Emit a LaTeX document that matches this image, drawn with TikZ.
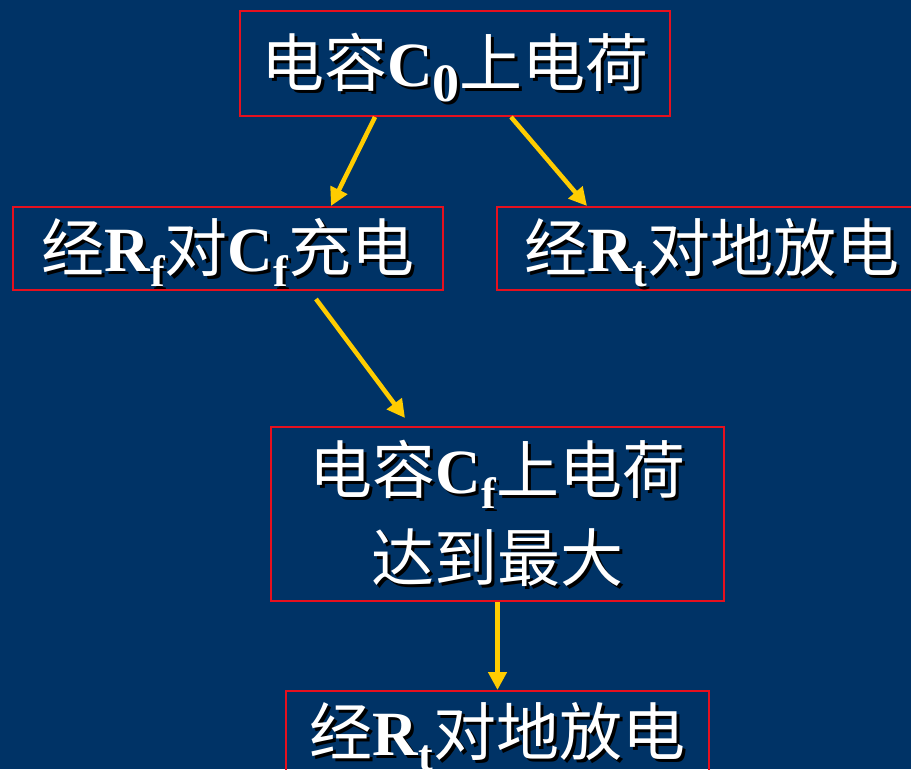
\documentclass[tikz,border=0pt]{standalone}
\usepackage{fontspec}
\usepackage{graphicx}
\setmainfont{Liberation Serif}
\newfontfamily\cjk{Noto Sans CJK SC}
\usetikzlibrary{arrows.meta}
\definecolor{bgblue}{RGB}{0,51,102}
\definecolor{boxred}{RGB}{230,16,30}
\definecolor{arrgold}{RGB}{255,204,0}
\newcommand\cj[1]{{\cjk #1}}
\newcommand\lt[1]{{\bfseries #1}}
\newcommand\subx[2][44]{\raisebox{-15pt}[0pt][0pt]{\fontsize{#1}{#1}\selectfont\bfseries #2}}
\newcommand\shad[1]{\leavevmode\raisebox{1pt}[\height][\depth]{\rlap{\kern3pt\raisebox{-3pt}[0pt][0pt]{\textcolor{black}{#1}}}\textcolor{white}{#1}}}
\begin{document}
\begin{tikzpicture}[x=1pt,y=-1pt,
  box/.style={draw=boxred,line width=2pt,inner sep=0pt,anchor=north west,
    font=\fontsize{63}{90}\selectfont,text=white,align=center},
  arr/.style={draw=arrgold,line width=4.5pt,-{Triangle[length=18pt,width=18pt]}}]
\useasboundingbox (0,0) rectangle (911,769);
\clip (0,0) rectangle (911,769);
\fill[bgblue] (0,0) rectangle (911,769);
\node[box,minimum width=430pt,minimum height=105pt] (top) at (239,10)
  {\shad{\cj{电容}\lt{C}\subx[54]{0}\cj{上电荷}}};
\node[box,minimum width=430pt,minimum height=83pt] (left) at (12,206)
  {\shad{\cj{经}\lt{R}\subx{f}\cj{对}\lt{C}\subx{f}\cj{充电}}};
\node[box,minimum width=430pt,minimum height=83pt] (right) at (496,206)
  {\shad{\cj{经}\lt{R}\subx{t}\cj{对地放电}}};
\node[box,minimum width=453pt,minimum height=174pt] (mid) at (270,426)
  {\shad{\cj{电容}\lt{C}\subx{f}\cj{上电荷}}\\[-2pt]\shad{\cj{达到最大}}};
\node[box,minimum width=423pt,minimum height=83pt] (bot) at (285,690)
  {\shad{\cj{经}\lt{R}\subx{t}\cj{对地放电}}};
\draw[arr] ([xshift=136pt]top.south west) -- ([xshift=319pt]left.north west);
\draw[arr] ([xshift=272pt]top.south west) -- ([xshift=91pt]right.north west);
\draw[arr] ([xshift=304pt,yshift=-8pt]left.south west) -- ([xshift=135pt,yshift=8pt]mid.north west);
\draw[arr] (mid.south) -- (bot.north);
\end{tikzpicture}
\end{document}
